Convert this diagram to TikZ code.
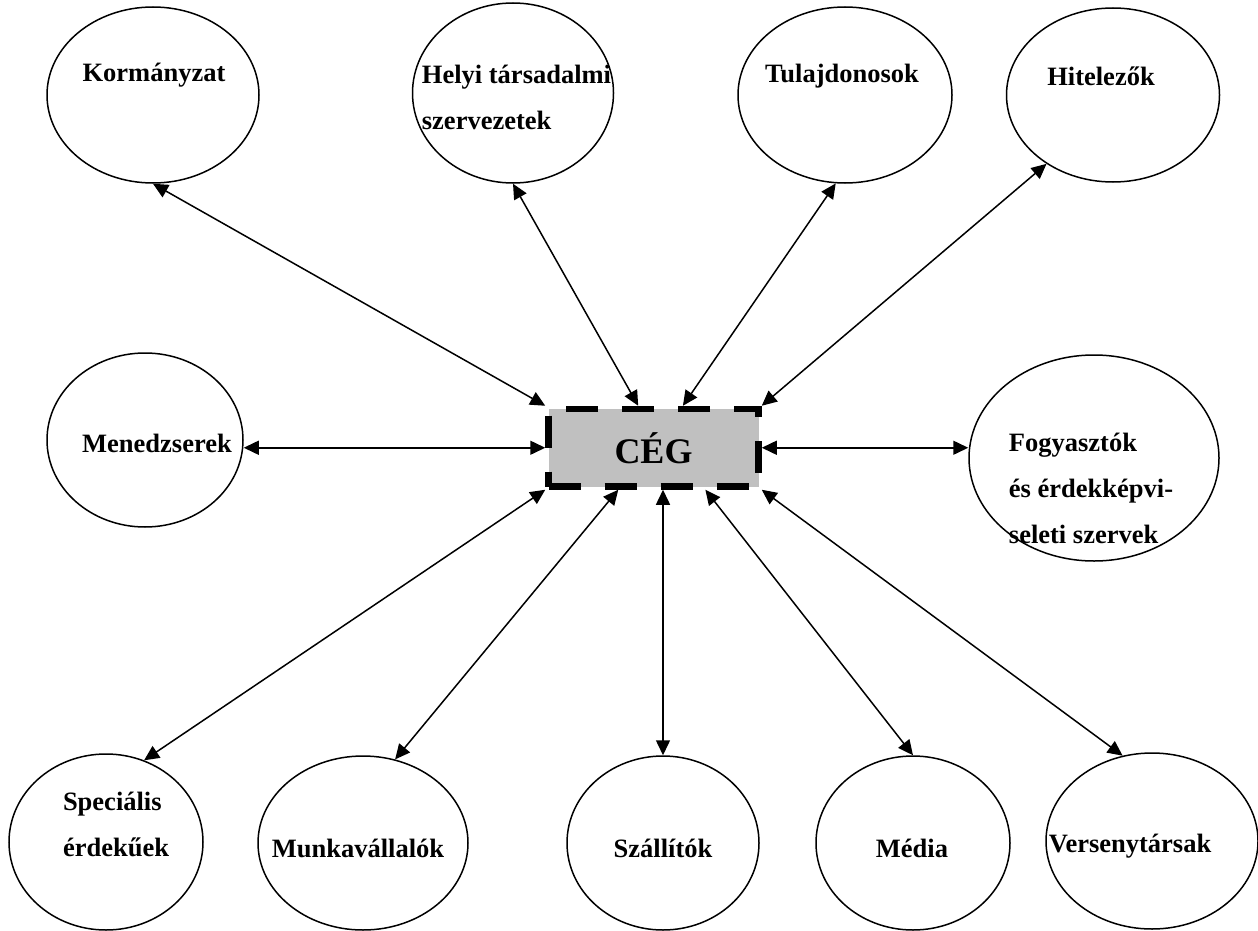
\documentclass[tikz,border=0pt]{standalone}
\usepackage{fontspec}
\setmainfont{Liberation Serif}
\usetikzlibrary{shapes.geometric,arrows.meta}
\definecolor{cegfill}{HTML}{C0C0C0}

\begin{document}
\begin{tikzpicture}[x=1pt,y=-1pt,
 >={Triangle[length=15pt,width=14pt]},
 party/.style={ellipse,draw,line width=1.5pt,inner sep=0pt},
 firm/.style={rectangle,draw,line width=6.5pt,dash pattern=on 32pt off 24pt,
  fill=cegfill,minimum width=210pt,minimum height=77.5pt,inner sep=0pt,
  font=\fontsize{36}{40}\selectfont\bfseries},
 txt/.style={font=\fontsize{26.5}{46}\selectfont\bfseries,align=left,inner sep=0pt},
 link/.style={<->,line width=1.5pt}]
  \useasboundingbox (0,0) rectangle (1258,931);

  \node[firm] (ceg) at (653.5,447.75) {CÉG};

  % top row
  \node[party,minimum width=212pt,minimum height=176pt,
   label={[txt,xshift=1pt,yshift=20pt]center:Kormányzat}] (korm) at (153,95) {};
  \node[party,minimum width=201pt,minimum height=180pt,
   label={[txt,xshift=3.5pt,yshift=-4pt]center:Helyi társadalmi\\szervezetek}] (helyi) at (513,93) {};
  \node[party,minimum width=214pt,minimum height=176pt,
   label={[txt,xshift=-3pt,yshift=19pt]center:Tulajdonosok}] (tulaj) at (845,95) {};
  \node[party,minimum width=213pt,minimum height=174pt,
   label={[txt,xshift=-12pt,yshift=19pt]center:Hitelezők}] (hitel) at (1113,95) {};

  % middle row
  \node[party,minimum width=196pt,minimum height=174pt,
   label={[txt,xshift=12pt,yshift=-3pt]center:Menedzserek}] (men) at (145,440) {};
  \node[party,minimum width=250pt,minimum height=206pt,
   label={[txt,xshift=-3pt,yshift=-30pt]center:Fogyasztók\\és érdekképvi-\\seleti szervek}] (fogy) at (1094,458) {};

  % bottom row
  \node[party,minimum width=194pt,minimum height=176pt,
   label={[txt,xshift=10pt,yshift=18pt]center:Speciális\\érdekűek}] (spec) at (106,842) {};
  \node[party,minimum width=210pt,minimum height=174pt,
   label={[txt,xshift=-5pt,yshift=-5pt]center:Munkavállalók}] (munka) at (363,843) {};
  \node[party,minimum width=192pt,minimum height=174pt,
   label={[txt,yshift=-5pt]center:Szállítók}] (szall) at (663,843) {};
  \node[party,minimum width=194pt,minimum height=174pt,
   label={[txt,xshift=-1pt,yshift=-5pt]center:Média}] (media) at (913,843) {};
  \node[party,minimum width=212pt,minimum height=176pt,
   label={[txt,xshift=-22pt,yshift=-5pt]center:Versenytársak}] (verseny) at (1152,841) {};

  \foreach \s/\t in {korm.270/ceg.north west, helyi.270/ceg.110, tulaj.264/ceg.55,
   hitel.226/ceg.north east, ceg.west -| men.east/ceg.west, ceg.east/ceg.east -| fogy.west,
   spec.65/ceg.south west, munka.69/ceg.230, szall.north/szall.north |- ceg.south,
   media.north/ceg.321, verseny.109/ceg.south east} {
   \path[draw,link] (\s) -- (\t);}
\end{tikzpicture}
\end{document}
